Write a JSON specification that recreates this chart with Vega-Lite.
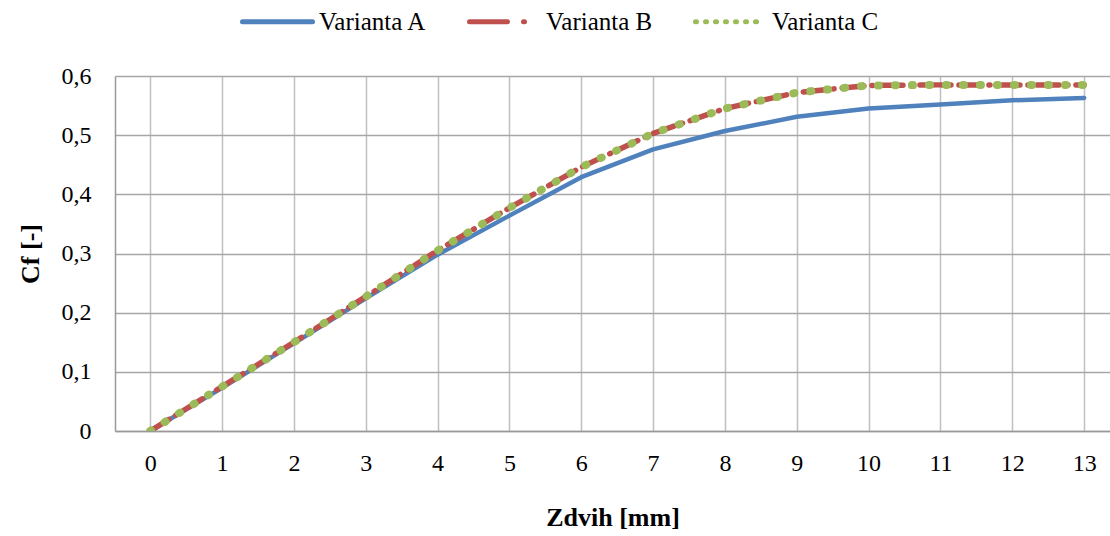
{
  "$schema": "https://vega.github.io/schema/vega-lite/v6.json",
  "width": 995,
  "height": 355,
  "autosize": "none",
  "padding": {"left": 115, "top": 76, "right": 0, "bottom": 105},
  "background": "white",
  "config": {
    "font": "Liberation Serif",
    "view": {"stroke": null},
    "axis": {"labelFont": "Liberation Serif", "titleFont": "Liberation Serif", "labelColor": "black", "titleColor": "black"},
    "legend": {"labelFont": "Liberation Serif"}
  },
  "data": {"values": [
    {"x": 0, "s": "Varianta A", "v": 0},
    {"x": 1, "s": "Varianta A", "v": 0.073},
    {"x": 2, "s": "Varianta A", "v": 0.148},
    {"x": 3, "s": "Varianta A", "v": 0.224},
    {"x": 4, "s": "Varianta A", "v": 0.298},
    {"x": 5, "s": "Varianta A", "v": 0.364},
    {"x": 6, "s": "Varianta A", "v": 0.429},
    {"x": 7, "s": "Varianta A", "v": 0.476},
    {"x": 8, "s": "Varianta A", "v": 0.507},
    {"x": 9, "s": "Varianta A", "v": 0.531},
    {"x": 10, "s": "Varianta A", "v": 0.545},
    {"x": 11, "s": "Varianta A", "v": 0.552},
    {"x": 12, "s": "Varianta A", "v": 0.559},
    {"x": 13, "s": "Varianta A", "v": 0.563},
    {"x": 0, "s": "Varianta B", "v": 0},
    {"x": 1, "s": "Varianta B", "v": 0.075},
    {"x": 2, "s": "Varianta B", "v": 0.150},
    {"x": 3, "s": "Varianta B", "v": 0.227},
    {"x": 4, "s": "Varianta B", "v": 0.305},
    {"x": 5, "s": "Varianta B", "v": 0.377},
    {"x": 6, "s": "Varianta B", "v": 0.446},
    {"x": 7, "s": "Varianta B", "v": 0.503},
    {"x": 8, "s": "Varianta B", "v": 0.545},
    {"x": 9, "s": "Varianta B", "v": 0.572},
    {"x": 10, "s": "Varianta B", "v": 0.584},
    {"x": 11, "s": "Varianta B", "v": 0.585},
    {"x": 12, "s": "Varianta B", "v": 0.585},
    {"x": 13, "s": "Varianta B", "v": 0.585},
    {"x": 0, "s": "Varianta C", "v": 0},
    {"x": 1, "s": "Varianta C", "v": 0.075},
    {"x": 2, "s": "Varianta C", "v": 0.150},
    {"x": 3, "s": "Varianta C", "v": 0.227},
    {"x": 4, "s": "Varianta C", "v": 0.305},
    {"x": 5, "s": "Varianta C", "v": 0.377},
    {"x": 6, "s": "Varianta C", "v": 0.446},
    {"x": 7, "s": "Varianta C", "v": 0.503},
    {"x": 8, "s": "Varianta C", "v": 0.545},
    {"x": 9, "s": "Varianta C", "v": 0.572},
    {"x": 10, "s": "Varianta C", "v": 0.584},
    {"x": 11, "s": "Varianta C", "v": 0.585},
    {"x": 12, "s": "Varianta C", "v": 0.585},
    {"x": 13, "s": "Varianta C", "v": 0.585}
  ]},
  "encoding": {
    "x": {
      "field": "x", "type": "quantitative",
      "scale": {"domain": [-0.49, 13.36], "nice": false, "zero": false},
      "axis": {
        "values": [0,1,2,3,4,5,6,7,8,9,10,11,12,13],
        "title": "Zdvih [mm]", "titleFontSize": 26, "titleFontWeight": "bold", "titlePadding": 29,
        "labelFontSize": 24, "labelPadding": 20, "ticks": false,
        "domainColor": "#999999", "domainWidth": 1.5,
        "grid": true, "gridColor": "#c0c0c0", "gridWidth": 1.5
      }
    },
    "y": {
      "field": "v", "type": "quantitative",
      "scale": {"domain": [0, 0.6], "nice": false},
      "axis": {
        "values": [0, 0.1, 0.2, 0.3, 0.4, 0.5, 0.6],
        "labelExpr": "datum.value == 0 ? '0' : replace(format(datum.value, '.1f'), '.', ',')",
        "title": "Cf [-]", "titleFontSize": 26, "titleFontWeight": "bold", "titlePadding": 18,
        "labelFontSize": 24, "labelPadding": 24, "ticks": false,
        "domainColor": "#999999", "domainWidth": 1.5,
        "grid": true, "gridColor": "#a6a6a6", "gridWidth": 1.5
      }
    },
    "color": {
      "field": "s", "type": "nominal",
      "scale": {"domain": ["Varianta A", "Varianta B", "Varianta C"], "range": ["#4F81BD", "#C0504D", "#9BBB59"]},
      "legend": {
        "title": null, "orient": "none", "direction": "horizontal",
        "legendX": 125, "legendY": -92,
        "symbolType": "stroke", "symbolSize": 4900, "symbolStrokeWidth": 5,
        "labelFontSize": 25, "labelFont": "Liberation Serif", "labelColor": "black",
        "labelOffset": 4, "columnPadding": 32, "labelLimit": 200,
        "encode": {
          "symbols": {"update": {
            "strokeCap": {"value": "round"},
            "strokeWidth": {"value": 5},
            "strokeDash": {"signal": "datum.value == 'Varianta B' ? [38, 16, 1, 16] : datum.value == 'Varianta C' ? [1, 9] : [1, 0]"}
          }}
        }
      }
    }
  },
  "layer": [
    {
      "transform": [{"filter": "datum.s == 'Varianta A'"}],
      "mark": {"type": "line", "strokeWidth": 4.5, "strokeCap": "round", "strokeJoin": "round", "clip": true}
    },
    {
      "transform": [{"filter": "datum.s == 'Varianta B'"}],
      "mark": {"type": "line", "strokeWidth": 5.5, "strokeDash": [22, 8, 1, 8], "strokeCap": "round", "strokeJoin": "round", "clip": true}
    },
    {
      "transform": [{"filter": "datum.s == 'Varianta C'"}],
      "mark": {"type": "line", "strokeWidth": 8, "strokeDash": [1, 16], "strokeCap": "round", "strokeJoin": "round", "clip": true}
    }
  ]
}
